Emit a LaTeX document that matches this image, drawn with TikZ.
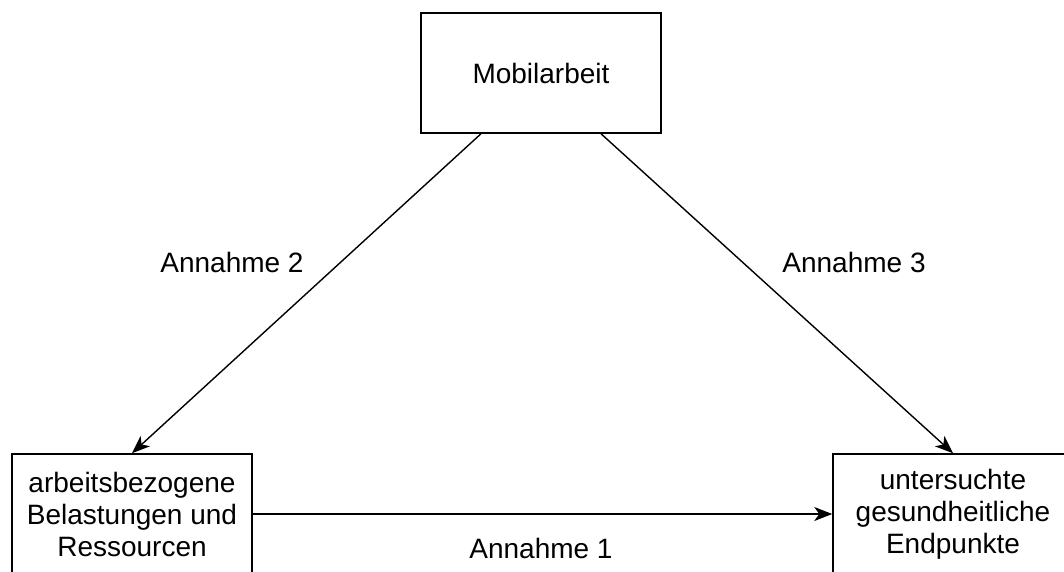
\documentclass[tikz,border=0pt]{standalone}
\usepackage{fontspec}
\setmainfont{Liberation Sans}
\usetikzlibrary{positioning, arrows.meta}

\tikzset{
    kasten/.style={draw, line width=1.5pt, minimum width=240pt, minimum height=120pt, align=center, inner sep=0pt},
    pfeil/.style={-{Stealth[length=18pt, width=14pt, inset=5pt]}, line width=1.4pt},
    schrift/.style={font=\fontsize{28}{32}\selectfont}
}

\begin{document}
\begin{tikzpicture}[x=1pt, y=-1pt, schrift]
               \useasboundingbox (0,0) rectangle (1064,572);
               \node[kasten] (mobil) at (541,73) {Mobilarbeit};
               \node[kasten] (belast) at (132,514) {arbeitsbezogene\\Belastungen und\\Ressourcen};
               \node[kasten] (gesund) at (953,514) {untersuchte\\gesundheitliche\\Endpunkte};
               \draw[pfeil] ([xshift=-60pt]mobil.south) -- (belast.north);
               \draw[pfeil] ([xshift=60pt]mobil.south) -- (gesund.north);
               \draw[pfeil] (belast.east) -- (gesund.west);
               \node (ann2) at (232,262) {Annahme 2};
               \node (ann3) at (854,262) {Annahme 3};
               \node (ann1) at (541,548) {Annahme 1};
          \end{tikzpicture}
\end{document}
